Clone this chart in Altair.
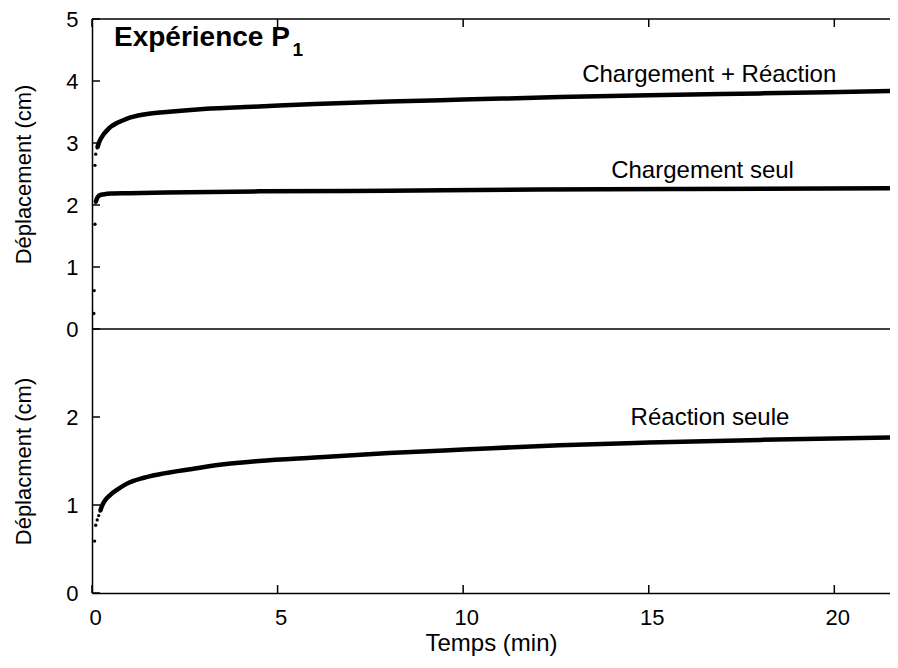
import altair as alt
import pandas as pd

# ---------------- data ----------------
# Chargement + Réaction (top panel)
cr_dots_t = [0.08, 0.10, 0.14]
cr_dots_v = [2.64, 2.82, 2.92]
cr_t = [0.14, 0.18, 0.22, 0.30, 0.40, 0.50, 0.70, 0.93, 1.4, 2.0, 3.0, 4.5, 6.0, 8.0, 10.0, 12.6, 15.0, 18.0, 21.7]
cr_v = [2.92, 2.99, 3.05, 3.13, 3.20, 3.26, 3.33, 3.39, 3.46, 3.50, 3.55, 3.59, 3.63, 3.67, 3.70, 3.74, 3.77, 3.80, 3.84]

# Chargement seul (top panel)
cs_dots_t = [0.05, 0.06, 0.08, 0.10]
cs_dots_v = [0.25, 0.62, 1.69, 2.04]
cs_t = [0.10, 0.13, 0.17, 0.22, 0.30, 0.50, 1.0, 2.0, 4.5, 8.0, 12.0, 16.0, 21.7]
cs_v = [2.04, 2.10, 2.14, 2.16, 2.17, 2.185, 2.19, 2.20, 2.22, 2.23, 2.25, 2.26, 2.27]

# Réaction seule (bottom panel)
rs_dots_t = [0.07, 0.10, 0.14, 0.18, 0.22]
rs_dots_v = [0.59, 0.77, 0.83, 0.88, 0.93]
rs_t = [0.22, 0.27, 0.35, 0.48, 0.70, 0.93, 1.4, 1.82, 2.7, 3.5, 4.5, 6.0, 8.0, 10.0, 12.6, 15.0, 18.0, 21.7]
rs_v = [0.93, 0.99, 1.05, 1.11, 1.18, 1.24, 1.31, 1.35, 1.41, 1.46, 1.50, 1.54, 1.59, 1.63, 1.68, 1.71, 1.74, 1.77]

x_ticks = [0, 5, 10, 15, 20]
top_ticks = [0, 1, 2, 3, 4, 5]
bot_ticks = [0, 1, 2]
x_domain = [0, 21.5]
top_domain = [0, 5]
bot_domain = [0, 3]

top_labels = ["Chargement + Réaction", "Chargement seul"]
top_label_t = [16.63, 16.45]
top_label_v = [3.99, 2.43]
bot_labels = ["Réaction seule"]
bot_label_t = [16.65]
bot_label_v = [1.906]

title_main = ["Expérience P"]
title_t = [5.33]
title_v = [4.57]
title_sub = ["1"]
sub_t = [5.40]
sub_v = [4.41]

# ---------------- layout ----------------
W, H, TOP_H = 798, 574, 310
FONT = "Liberation Sans"
LW = 1.5


def df(t, v):
    return pd.DataFrame({"t": t, "v": v})


x_scale = alt.Scale(domain=x_domain, nice=False, zero=False)
y_top_scale = alt.Scale(domain=top_domain, range=[TOP_H, 0], nice=False)
y_bot_scale = alt.Scale(domain=bot_domain, range=[H, TOP_H], nice=False)

common_axis = dict(
    ticks=False, tickSize=0, grid=False, domainColor="black", domainWidth=LW,
    labelFont=FONT, titleFont=FONT, labelFontSize=22,
    labelColor="black", titleColor="black", titleFontWeight="normal",
    labelFlush=False, format="d",
)
x_axis = alt.Axis(values=x_ticks, title="Temps (min)", orient="bottom",
                  labelPadding=14, labelOffset=3, titlePadding=3, titleFontSize=24,
                  **common_axis)
y_top_axis = alt.Axis(values=top_ticks, title="Déplacement (cm)", orient="left",
                      labelPadding=14, titlePadding=30, titleFontSize=22,
                      **common_axis)
y_bot_axis = alt.Axis(values=bot_ticks, title="Déplacment (cm)", orient="left",
                      labelPadding=14, titlePadding=30, titleFontSize=22,
                      **common_axis)


def X():
    return alt.X("t:Q", scale=x_scale, axis=x_axis)


def YT():
    return alt.Y("v:Q", scale=y_top_scale, axis=y_top_axis)


def YB():
    return alt.Y("v:Q", scale=y_bot_scale, axis=y_bot_axis)


def curve(t, v, Y):
    return alt.Chart(df(t, v)).mark_line(
        color="black", strokeWidth=4.5, interpolate="monotone", clip=True
    ).encode(x=X(), y=Y())


def dots(t, v, Y):
    return alt.Chart(df(t, v)).mark_circle(color="black", size=11, opacity=1).encode(x=X(), y=Y())


def labels(texts, t, v, Y, size=24, weight="normal", align="center"):
    d = pd.DataFrame({"t": t, "v": v, "txt": texts})
    return alt.Chart(d).mark_text(
        font=FONT, fontSize=size, fontWeight=weight, align=align,
        baseline="alphabetic", color="black"
    ).encode(x=X(), y=Y(), text="txt:N")


# inward ticks
top_y_ticks = alt.Chart(pd.DataFrame({"v": top_ticks})).mark_rule(
    color="black", strokeWidth=LW).encode(y=YT(), x=alt.value(0), x2=alt.value(8))
bot_y_ticks = alt.Chart(pd.DataFrame({"v": bot_ticks})).mark_rule(
    color="black", strokeWidth=LW).encode(y=YB(), x=alt.value(0), x2=alt.value(8))
bottom_x_ticks = alt.Chart(pd.DataFrame({"t": x_ticks})).mark_rule(
    color="black", strokeWidth=LW).encode(x=X(), y=alt.value(H), y2=alt.value(H - 8))
top_x_ticks = alt.Chart(pd.DataFrame({"t": x_ticks})).mark_rule(
    color="black", strokeWidth=LW).encode(x=X(), y=alt.value(0), y2=alt.value(8))

# frame lines: top border (y=5) and panel separator (y=0 of top panel)
frame_lines = alt.Chart(pd.DataFrame({"v": [top_domain[1], top_domain[0]]})).mark_rule(
    color="black", strokeWidth=LW).encode(y=YT())

top = alt.layer(
    frame_lines,
    top_y_ticks,
    top_x_ticks,
    curve(cr_t, cr_v, YT),
    dots(cr_dots_t, cr_dots_v, YT),
    curve(cs_t, cs_v, YT),
    dots(cs_dots_t, cs_dots_v, YT),
    labels(top_labels, top_label_t, top_label_v, YT),
    labels(title_main, title_t, title_v, YT, size=28, weight="bold", align="right"),
    labels(title_sub, sub_t, sub_v, YT, size=19, weight="bold", align="left"),
)

bottom = alt.layer(
    bot_y_ticks,
    bottom_x_ticks,
    curve(rs_t, rs_v, YB),
    dots(rs_dots_t, rs_dots_v, YB),
    labels(bot_labels, bot_label_t, bot_label_v, YB),
)

chart = (
    alt.layer(top, bottom)
    .resolve_scale(y="independent")
    .resolve_axis(y="independent")
    .properties(
        width=W, height=H,
        padding={"left": 84, "top": 11, "right": 0, "bottom": 63},
        autosize=alt.AutoSizeParams(type="none"),
        background="white",
    )
    .configure_view(stroke=None)
)

chart.save("out.html", embed_options={"renderer": "svg", "actions": False})
